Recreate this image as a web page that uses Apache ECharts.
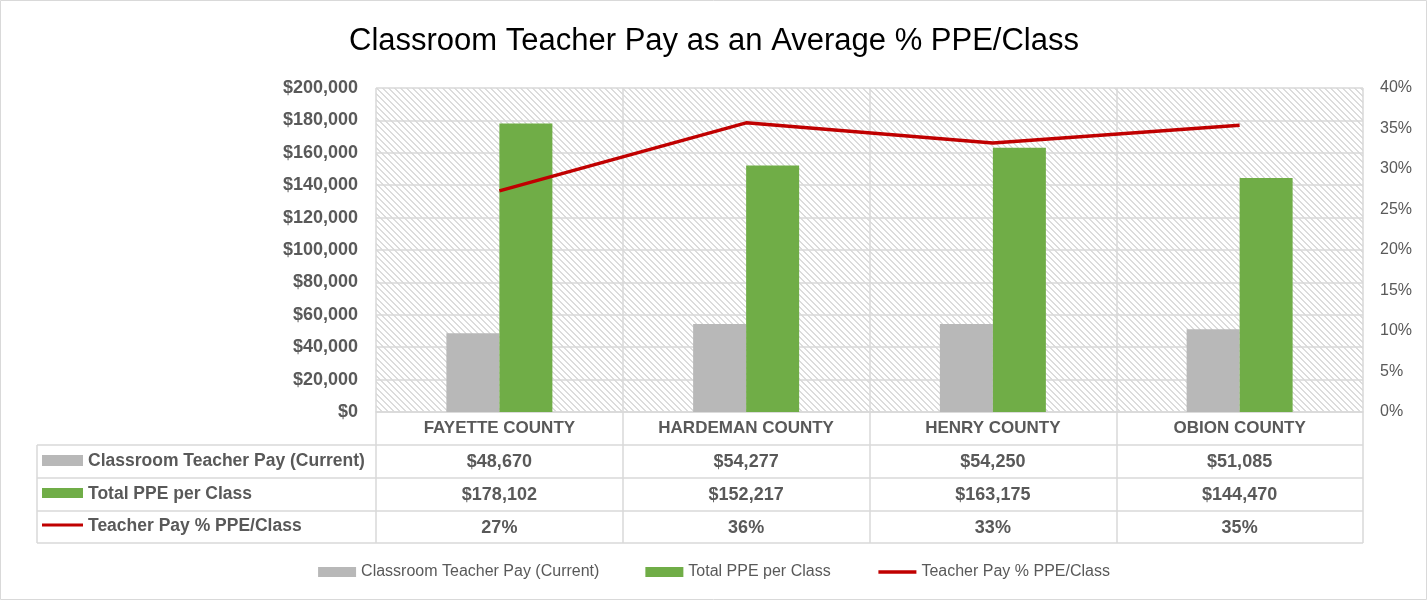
<!DOCTYPE html>
<html>
<head>
<meta charset="utf-8">
<script src="https://cdn.jsdelivr.net/npm/echarts@6/dist/echarts.min.js"></script>
<style>
html,body{margin:0;padding:0;background:#fff;}
#c{width:1428px;height:601px;}
</style>
</head>
<body>
<div id="c"></div>
<script>
const categories = ['FAYETTE COUNTY', 'HARDEMAN COUNTY', 'HENRY COUNTY', 'OBION COUNTY'];
const teacherPay = [48670, 54277, 54250, 51085];
const totalPPE = [178102, 152217, 163175, 144470];
const payPct = [27.3, 35.7, 33.2, 35.4];
const seriesNames = ['Classroom Teacher Pay (Current)', 'Total PPE per Class', 'Teacher Pay % PPE/Class'];
const leftTicks = {min: 0, max: 200000, interval: 20000};
const rightTicks = {min: 0, max: 40, interval: 5};

const FONT = 'Liberation Sans';
const TXT = '#595959';
const GRID = '#d9d9d9';

function money(v) { return '$' + v.toLocaleString('en-US'); }

// hatch pattern
const pc = document.createElement('canvas');
pc.width = 6; pc.height = 6;
const pctx = pc.getContext('2d');
pctx.fillStyle = '#ffffff';
pctx.fillRect(0, 0, 6, 6);
pctx.fillStyle = '#dcdcdc';
for (let i = 0; i < 6; i++) {
  pctx.fillRect(i, i, 1, 1);
  pctx.fillRect((i + 1) % 6, i, 1, 1);
}

const chart = echarts.init(document.getElementById('c'), null, {renderer: 'canvas'});

const rowAxis = (data, offset) => ({
  type: 'category',
  position: 'bottom',
  offset: offset,
  data: data,
  axisLine: {show: false},
  axisTick: {show: false},
  splitLine: {show: false},
  axisLabel: {margin: 8, color: TXT, fontFamily: FONT, fontWeight: 'bold', fontSize: 18, interval: 0}
});

const option = {
  backgroundColor: '#ffffff',
  animation: false,
  title: {
    text: 'Classroom Teacher Pay as an Average % PPE/Class',
    left: 'center',
    top: 21,
    textStyle: {fontFamily: FONT, fontWeight: 'normal', fontSize: 31, color: '#000000'}
  },
  legend: {
    top: 559,
    left: 'center',
    itemWidth: 38,
    itemHeight: 10,
    itemGap: 46,
    textStyle: {fontFamily: FONT, fontSize: 16, color: TXT},
    data: [
      {name: seriesNames[0], icon: 'rect'},
      {name: seriesNames[1], icon: 'rect'},
      {name: seriesNames[2], itemStyle: {opacity: 0}, lineStyle: {color: '#C00000', width: 3.5}}
    ]
  },
  grid: {
    left: 376, right: 65, top: 88, bottom: 189,
    show: true,
    borderWidth: 0,
    backgroundColor: {image: pc, repeat: 'repeat'}
  },
  xAxis: [
    {
      type: 'category',
      data: categories,
      boundaryGap: true,
      axisLine: {show: true, lineStyle: {color: GRID, width: 1.5}},
      axisTick: {show: true, length: 131, lineStyle: {color: GRID, width: 1.5}},
      splitLine: {show: true, lineStyle: {color: GRID, width: 1.5}},
      axisLabel: {margin: 8, color: TXT, fontFamily: FONT, fontWeight: 'bold', fontSize: 17, interval: 0}
    },
    rowAxis(teacherPay.map(money), 33),
    rowAxis(totalPPE.map(money), 66),
    rowAxis(payPct.map(v => Math.round(v) + '%'), 99)
  ],
  yAxis: [
    {
      type: 'value',
      min: leftTicks.min, max: leftTicks.max, interval: leftTicks.interval,
      axisLine: {show: false},
      axisTick: {show: false},
      splitLine: {show: true, lineStyle: {color: GRID, width: 1.5}},
      axisLabel: {
        margin: 18, color: TXT, fontFamily: FONT, fontWeight: 'bold', fontSize: 18,
        formatter: v => money(v)
      }
    },
    {
      type: 'value',
      min: rightTicks.min, max: rightTicks.max, interval: rightTicks.interval,
      axisLine: {show: false},
      axisTick: {show: false},
      splitLine: {show: false},
      axisLabel: {
        margin: 17, color: TXT, fontFamily: FONT, fontSize: 16,
        formatter: v => v + '%'
      }
    }
  ],
  series: [
    {
      name: seriesNames[0], type: 'bar', data: teacherPay,
      barWidth: 53, barGap: '0%',
      itemStyle: {color: '#B8B8B8'}
    },
    {
      name: seriesNames[1], type: 'bar', data: totalPPE,
      barWidth: 53, barGap: '0%',
      itemStyle: {color: '#70AD47'}
    },
    {
      name: seriesNames[2], type: 'line', data: payPct, yAxisIndex: 1,
      symbol: 'none', z: 5,
      lineStyle: {color: '#C00000', width: 3.5},
      itemStyle: {color: '#C00000'}
    }
  ],
  graphic: [
    {type: 'rect', shape: {x: 0.5, y: 0.5, width: 1426, height: 599}, style: {fill: 'none', stroke: GRID, lineWidth: 1}, z: 100},
    {type: 'line', shape: {x1: 37, y1: 445, x2: 1363, y2: 445}, style: {stroke: GRID, lineWidth: 1.5}},
    {type: 'line', shape: {x1: 37, y1: 478, x2: 1363, y2: 478}, style: {stroke: GRID, lineWidth: 1.5}},
    {type: 'line', shape: {x1: 37, y1: 511, x2: 1363, y2: 511}, style: {stroke: GRID, lineWidth: 1.5}},
    {type: 'line', shape: {x1: 37, y1: 543, x2: 1363, y2: 543}, style: {stroke: GRID, lineWidth: 1.5}},
    {type: 'line', shape: {x1: 37, y1: 445, x2: 37, y2: 543}, style: {stroke: GRID, lineWidth: 1.5}},
    {type: 'rect', shape: {x: 42, y: 455, width: 41, height: 11}, style: {fill: '#B8B8B8'}},
    {type: 'rect', shape: {x: 42, y: 488, width: 41, height: 10}, style: {fill: '#70AD47'}},
    {type: 'line', shape: {x1: 42, y1: 525, x2: 83, y2: 525}, style: {stroke: '#C00000', lineWidth: 3}},
    {type: 'text', x: 88, y: 461.5, style: {text: seriesNames[0], fill: TXT, font: 'bold 17.5px "' + FONT + '"', textVerticalAlign: 'middle'}},
    {type: 'text', x: 88, y: 494, style: {text: seriesNames[1], fill: TXT, font: 'bold 17.5px "' + FONT + '"', textVerticalAlign: 'middle'}},
    {type: 'text', x: 88, y: 526.5, style: {text: seriesNames[2], fill: TXT, font: 'bold 17.5px "' + FONT + '"', textVerticalAlign: 'middle'}}
  ]
};
chart.setOption(option);
</script>
</body>
</html>
